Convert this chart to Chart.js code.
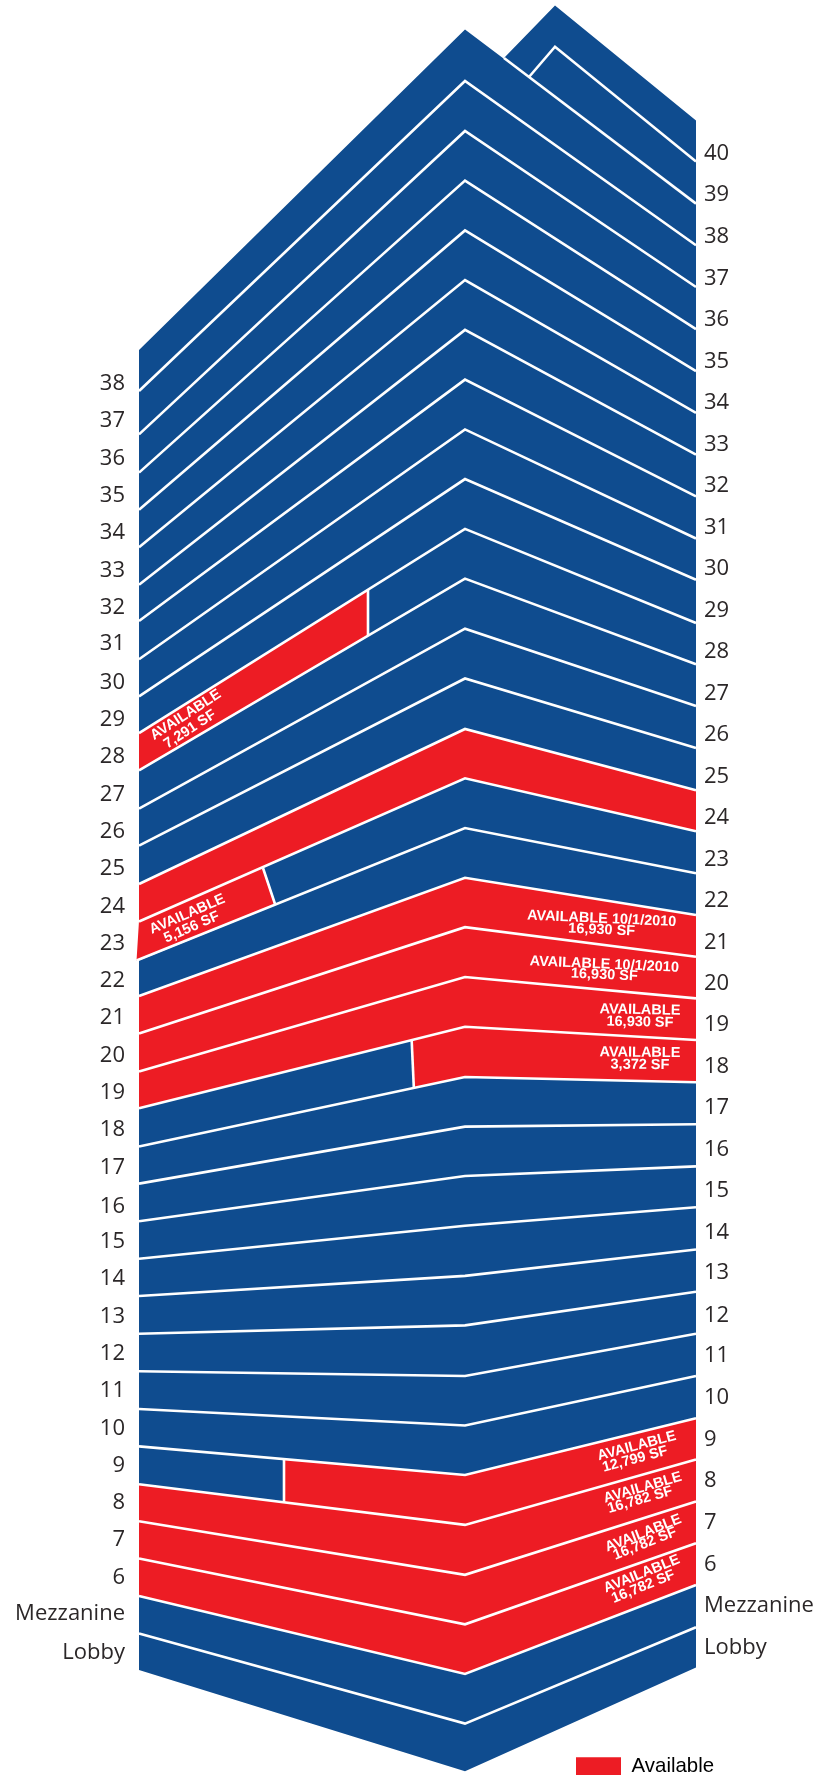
<!DOCTYPE html>
<html lang="en">
<head>
    <meta charset="UTF-8">
    <title>Tower Availability Stacking Plan</title>
    <script src="https://cdn.jsdelivr.net/npm/chart.js@4"></script>
    <style>
        html, body { margin: 0; padding: 0; background: #fff; }
        canvas { display: block; }
    </style>
</head>
<body>
<canvas id="stack" width="817" height="1775"></canvas>
<script>
// floors, top to bottom
const floorNames = ['38','37','36','35','34','33','32','31','30','29','28','27','26','25','24','23','22','21','20','19','18','17','16','15','14','13','12','11','10','9','8','7','6','Mezzanine','Lobby'];
const rightNames = ['40','39','38','37','36','35','34','33','32','31','30','29','28','27','26','25','24','23','22','21','20','19','18','17','16','15','14','13','12','11','10','9','8','7','6','Mezzanine','Lobby'];

// floor lines, at the three corners of the building
const leftEdge = [350,391,434.4,472.6,509.8,547.3,584.8,621,659.3,696.4,733.2,770.3,808.6,845.7,884,921.5,960.5,996,1033.6,1071.5,1108.2,1146.5,1183.6,1221.3,1258.7,1296,1333.8,1371.3,1409,1446.4,1484.2,1521.2,1558.6,1596,1633.4,1670];
const midEdge = [29.5,81,131,180.6,230.4,280.1,329.9,379.6,429.4,479.1,528.9,578.6,628.7,678.5,729,778.3,828,877.8,927.2,977,1026.7,1077,1126.6,1176,1225.7,1275.9,1325.4,1376,1425.5,1475,1524.9,1574.8,1624.3,1674,1723.6,1771.3];
const rightEdge = [120.5,161.5,203.6,245.3,287,329.1,371.2,412.9,454.6,496.4,538.5,579.8,623,664.3,706,748.1,790.2,831.2,873.2,915,956.7,998.4,1040,1082.2,1124.3,1166.4,1207.3,1249.5,1291.7,1333.8,1376,1418.2,1459.6,1501.4,1543.2,1585,1627.2,1667.5];

// label heights on both sides
const leftTicks = [383.7,421.2,458.3,495.4,533,570.5,607.9,644.2,682.5,719.6,756.8,794.6,832.2,868.9,906.4,943.5,980.6,1017.8,1055.3,1092.4,1129.5,1167.4,1206.5,1241.3,1279,1316.5,1353.5,1391,1428.4,1465.8,1502.4,1540.2,1577.6,1614,1652.5];
const rightTicks = [153.3,195,236.4,278.5,319.8,361.5,402.8,444.9,485.9,527.6,568.9,610.6,651.5,693.6,734.6,776.7,817.6,859.3,900.7,942.4,983.3,1024.7,1066.4,1107.7,1149.4,1190.4,1232.5,1273.2,1315.4,1356.1,1397.9,1439.4,1481.2,1522.6,1564.4,1605.5,1647.3];

// floors that are fully available
const fullFloors = ['24','21','20','19','8','7','6'];

// floors that are partly available: where the divider meets the floor lines
const partFloors = ['28','23','18','9'];
const partSide = ['left','left','right','right'];
const dividerTopX = [368,263,411.7,284];
const dividerTopY = [589.7,868,1041,1459.3];
const dividerBottomX = [368,275,413.8,284];
const dividerBottomY = [635.7,904,1087,1501.8];

// the second wing behind the roof
const wingX = [504,529,555];
const wingRoofY = [58,77,5.4];
const wingLineY = 46.7;

const availableTexts = [
    ['AVAILABLE','7,291 SF'],
    ['AVAILABLE','5,156 SF'],
    ['AVAILABLE 10/1/2010','16,930 SF'],
    ['AVAILABLE 10/1/2010','16,930 SF'],
    ['AVAILABLE','16,930 SF'],
    ['AVAILABLE','3,372 SF'],
    ['AVAILABLE','12,799 SF'],
    ['AVAILABLE','16,782 SF'],
    ['AVAILABLE','16,782 SF'],
    ['AVAILABLE','16,782 SF']
];
const legendLabel = 'Available';

const BLUE = '#0f4c8f';
const RED = '#ed1c24';
const xLeft = 139, xMid = 465, xRight = 696;
const overhangX = 136.5;   // the cut corner of floor 23 sticks out a little

// x, y of the two text lines and the angle, for each entry of availableTexts
const textPlaces = [
    [185.7,715, 190,729.3, -33],
    [187.3,914.3, 191.7,927.3, -23.5],
    [601.7,918.8, 601.7,930, 2.5],
    [604.3,964.5, 604.3,975, 2.5],
    [640,1010, 640,1022.2, 1],
    [640,1052.7, 640,1064.8, 0.5],
    [636.7,1446, 635,1459.3, -15],
    [642.7,1487.7, 640,1500, -16],
    [643.3,1533.3, 645,1543.8, -21.5],
    [641.7,1574, 643.3,1586.7, -22]
];

function pt(x, y) { return { x: x, y: y }; }

function shape(points, color, order) {
    return { data: points, backgroundColor: color, borderWidth: 0, fill: 'shape', order: order,
             showLine: true, pointRadius: 0, xAxisID: 'x', yAxisID: 'yL' };
}
function rule(points) {
    return { data: points, borderColor: '#fff', borderWidth: 2.6, fill: false, order: 0,
             showLine: true, pointRadius: 0, xAxisID: 'x', yAxisID: 'yL', borderJoinStyle: 'miter' };
}

const datasets = [];

// wing, floors 40 and 39
datasets.push(shape([pt(wingX[0],wingRoofY[0]), pt(wingX[2],wingRoofY[2]), pt(xRight,rightEdge[0]), pt(xRight,rightEdge[1]),
                     pt(wingX[2],wingLineY), pt(wingX[1],wingRoofY[1])], BLUE, 4));
datasets.push(shape([pt(wingX[1],wingRoofY[1]), pt(wingX[2],wingLineY), pt(xRight,rightEdge[1]), pt(xRight,rightEdge[2])], BLUE, 4));
datasets.push(rule([pt(wingX[1],wingRoofY[1]), pt(wingX[2],wingLineY), pt(xRight,rightEdge[1])]));
datasets.push(rule([pt(wingX[0],wingRoofY[0]), pt(xRight,rightEdge[2])]));

// main floors
floorNames.forEach((name, i) => {
    const color = fullFloors.includes(name) ? RED : BLUE;
    datasets.push(shape([pt(xLeft,leftEdge[i]), pt(xMid,midEdge[i]), pt(xRight,rightEdge[i+2]),
                         pt(xRight,rightEdge[i+3]), pt(xMid,midEdge[i+1]), pt(xLeft,leftEdge[i+1])], color, 3));
});

// available parts of the split floors, painted over the blue floor
partFloors.forEach((name, k) => {
    const i = floorNames.indexOf(name);
    const top = pt(dividerTopX[k], dividerTopY[k]), bottom = pt(dividerBottomX[k], dividerBottomY[k]);
    let points;
    if (partSide[k] === 'left') {
        const lowX = name === '23' ? overhangX : xLeft;
        points = [pt(xLeft,leftEdge[i]), top, bottom, pt(lowX,leftEdge[i+1])];
    } else {
        points = [top, pt(xMid,midEdge[i]), pt(xRight,rightEdge[i+2]), pt(xRight,rightEdge[i+3]), pt(xMid,midEdge[i+1]), bottom];
    }
    datasets.push(shape(points, RED, 2));
    datasets.push(rule([top, bottom]));
});

// white floor lines
for (let i = 1; i < floorNames.length; i++) {
    const startX = floorNames[i] === '22' ? overhangX : xLeft;
    datasets.push(rule([pt(startX,leftEdge[i]), pt(xMid,midEdge[i]), pt(xRight,rightEdge[i+2])]));
}

const availableLabels = {
    id: 'availableLabels',
    afterDatasetsDraw(chart) {
        const ctx = chart.ctx, sx = chart.scales.x, sy = chart.scales.yL;
        ctx.save();
        ctx.fillStyle = '#fff';
        ctx.font = 'bold 14.5px "Liberation Sans"';
        ctx.textAlign = 'center';
        ctx.textBaseline = 'middle';
        availableTexts.forEach((lines, k) => {
            const p = textPlaces[k];
            [[p[0],p[1]], [p[2],p[3]]].forEach((c, n) => {
                ctx.save();
                ctx.translate(sx.getPixelForValue(c[0]), sy.getPixelForValue(c[1]));
                ctx.rotate(p[4] * Math.PI / 180);
                ctx.fillText(lines[n], 0, 0);
                ctx.restore();
            });
        });
        ctx.restore();
    },
    // the key sits in the bottom right corner, partly below the building
    afterLayout(chart) {
        const lg = chart.legend;
        lg.left = 576; lg.right = 714; lg.top = 1756; lg.bottom = 1775;
    }
};

function floorAxis(position, ticks, names, width, pad) {
    return {
        type: 'linear', position: position, min: 0, max: 1775, reverse: true,
        grid: { display: false, drawTicks: false }, border: { display: false },
        afterBuildTicks: s => { s.ticks = ticks.map(v => ({ value: v })); },
        // no room kept for the first and last label, y values are page pixels
        afterFit: s => { s.width = width; s.paddingTop = 0; s.paddingBottom = 0; },
        ticks: {
            autoSkip: false, padding: pad, color: '#2b2728',
            font: { family: '"Open Sans"', size: 22 },
            callback: (v, idx) => names[idx]
        }
    };
}

new Chart(document.getElementById('stack'), {
    type: 'scatter',
    data: { datasets: datasets },
    plugins: [availableLabels],
    options: {
        responsive: false,
        animation: false,
        devicePixelRatio: 1,
        layout: { padding: 0 },
        scales: {
            x: { type: 'linear', min: 130, max: 700, display: false },
            yL: floorAxis('left', leftTicks, floorNames, 130, 5),
            yR: floorAxis('right', rightTicks, rightNames, 117, 4)
        },
        plugins: {
            tooltip: { enabled: false },
            legend: {
                position: 'chartArea', align: 'start',
                labels: {
                    boxWidth: 45, boxHeight: 18, padding: 0, textAlign: 'right', color: '#222',
                    font: { family: '"Liberation Sans"', size: 20.4 },
                    generateLabels: () => [{ text: legendLabel, fillStyle: RED, strokeStyle: RED, lineWidth: 0, datasetIndex: 0 }]
                }
            }
        }
    }
});
</script>
</body>
</html>
